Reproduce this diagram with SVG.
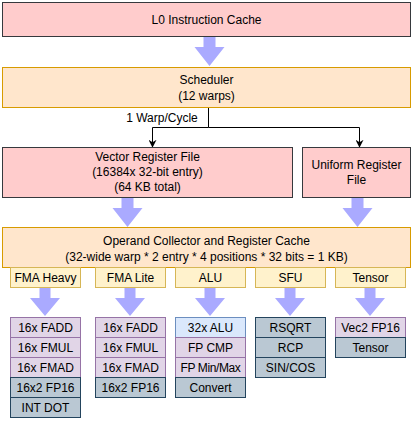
<svg xmlns="http://www.w3.org/2000/svg" width="413" height="425" viewBox="0 0 413 425">
<defs>
<style>
text{font-family:"Liberation Sans",Arial,sans-serif;font-size:12px;fill:#000;text-anchor:middle;dominant-baseline:central}
.red{fill:#ffcccc;stroke:#36393d}
.org{fill:#ffe6cc;stroke:#d79b00}
.yel{fill:#fff2cc;stroke:#d6b656}
.pur{fill:#e1d5e7;stroke:#9673a6}
.gry{fill:#bac8d3;stroke:#23445d}
.blu{fill:#dae8fc;stroke:#6c8ebf}
.fa{fill:#aaaaff;stroke:none}
.ln{fill:none;stroke:#000;stroke-width:1}
</style>
<marker id="ah" viewBox="0 0 10 10" refX="9" refY="5" markerWidth="8" markerHeight="8" markerUnits="userSpaceOnUse" orient="auto">
<path d="M0,0 L10,5 L0,10 L3,5 Z" fill="#000"/>
</marker>
<path id="fat" d="M-6,0 H6 V10 H15 L0,29 L-15,10 H-6 Z"/>
<path id="fat2" d="M-5.5,0 H5.5 V10 H15 L0,28 L-15,10 H-5.5 Z"/>
</defs>

<g id="connectors">
<use href="#fat" class="fa" x="209.5" y="37"/>
<use href="#fat" class="fa" x="127.5" y="198"/>
<use href="#fat" class="fa" x="357.5" y="198"/>
<use href="#fat2" class="fa" x="45" y="288"/>
<use href="#fat2" class="fa" x="130" y="288"/>
<use href="#fat2" class="fa" x="210" y="288"/>
<use href="#fat2" class="fa" x="290" y="288"/>
<use href="#fat2" class="fa" x="370" y="288"/>
<path class="ln" d="M208.5,107 V127.5 H152.5 V147" marker-end="url(#ah)"/>
<path class="ln" d="M208.5,127.5 H359.5 V147" marker-end="url(#ah)"/>
<text x="162" y="118">1 Warp/Cycle</text>
</g>

<g id="l0cache">
<rect class="red" x="2.5" y="2.5" width="408" height="34"/>
<text x="206.5" y="19.5">L0 Instruction Cache</text>
</g>

<g id="scheduler">
<rect class="org" x="2.5" y="67.5" width="408" height="40"/>
<text x="206.5" y="80">Scheduler</text>
<text x="206.5" y="96">(12 warps)</text>
</g>

<g id="vrf">
<rect class="red" x="2.5" y="147.5" width="290" height="50"/>
<text x="147.5" y="157">Vector Register File</text>
<text x="147.5" y="172">(16384x 32-bit entry)</text>
<text x="147.5" y="187">(64 KB total)</text>
</g>

<g id="urf">
<rect class="red" x="302.5" y="147.5" width="108" height="50"/>
<text x="356.5" y="164.5">Uniform Register</text>
<text x="356.5" y="179.5">File</text>
</g>

<g id="operand">
<rect class="org" x="2.5" y="227.5" width="408" height="40"/>
<text x="206.5" y="240.5">Operand Collector and Register Cache</text>
<text x="206.5" y="256.5">(32-wide warp * 2 entry * 4 positions * 32 bits = 1 KB)</text>
</g>

<g id="fma-heavy">
<rect class="yel" x="10.5" y="267.5" width="70" height="20"/>
<text x="45.5" y="277.5">FMA Heavy</text>
<rect class="pur" x="10.5" y="317.5" width="70" height="20"/>
<text x="45.5" y="327.5">16x FADD</text>
<rect class="pur" x="10.5" y="337.5" width="70" height="20"/>
<text x="45.5" y="347.5">16x FMUL</text>
<rect class="pur" x="10.5" y="357.5" width="70" height="20"/>
<text x="45.5" y="367.5">16x FMAD</text>
<rect class="gry" x="10.5" y="377.5" width="70" height="20"/>
<text x="45.5" y="387.5">16x2 FP16</text>
<rect class="gry" x="10.5" y="397.5" width="70" height="20"/>
<text x="45.5" y="407.5">INT DOT</text>
</g>

<g id="fma-lite">
<rect class="yel" x="95.5" y="267.5" width="70" height="20"/>
<text x="130.5" y="277.5">FMA Lite</text>
<rect class="pur" x="95.5" y="317.5" width="70" height="20"/>
<text x="130.5" y="327.5">16x FADD</text>
<rect class="pur" x="95.5" y="337.5" width="70" height="20"/>
<text x="130.5" y="347.5">16x FMUL</text>
<rect class="pur" x="95.5" y="357.5" width="70" height="20"/>
<text x="130.5" y="367.5">16x FMAD</text>
<rect class="gry" x="95.5" y="377.5" width="70" height="20"/>
<text x="130.5" y="387.5">16x2 FP16</text>
</g>

<g id="alu">
<rect class="yel" x="175.5" y="267.5" width="70" height="20"/>
<text x="210.5" y="277.5">ALU</text>
<rect class="blu" x="175.5" y="317.5" width="70" height="20"/>
<text x="210.5" y="327.5">32x ALU</text>
<rect class="pur" x="175.5" y="337.5" width="70" height="20"/>
<text x="210.5" y="347.5">FP CMP</text>
<rect class="pur" x="175.5" y="357.5" width="70" height="20"/>
<text x="210.5" y="367.5" style="letter-spacing:-0.4px">FP Min/Max</text>
<rect class="gry" x="175.5" y="377.5" width="70" height="20"/>
<text x="210.5" y="387.5">Convert</text>
</g>

<g id="sfu">
<rect class="yel" x="255.5" y="267.5" width="70" height="20"/>
<text x="290.5" y="277.5">SFU</text>
<rect class="gry" x="255.5" y="317.5" width="70" height="20"/>
<text x="290.5" y="327.5">RSQRT</text>
<rect class="gry" x="255.5" y="337.5" width="70" height="20"/>
<text x="290.5" y="347.5">RCP</text>
<rect class="gry" x="255.5" y="357.5" width="70" height="20"/>
<text x="290.5" y="367.5">SIN/COS</text>
</g>

<g id="tensor">
<rect class="yel" x="335.5" y="267.5" width="70" height="20"/>
<text x="370.5" y="277.5">Tensor</text>
<rect class="pur" x="335.5" y="317.5" width="70" height="20"/>
<text x="370.5" y="327.5">Vec2 FP16</text>
<rect class="gry" x="335.5" y="337.5" width="70" height="20"/>
<text x="370.5" y="347.5">Tensor</text>
</g>
</svg>
